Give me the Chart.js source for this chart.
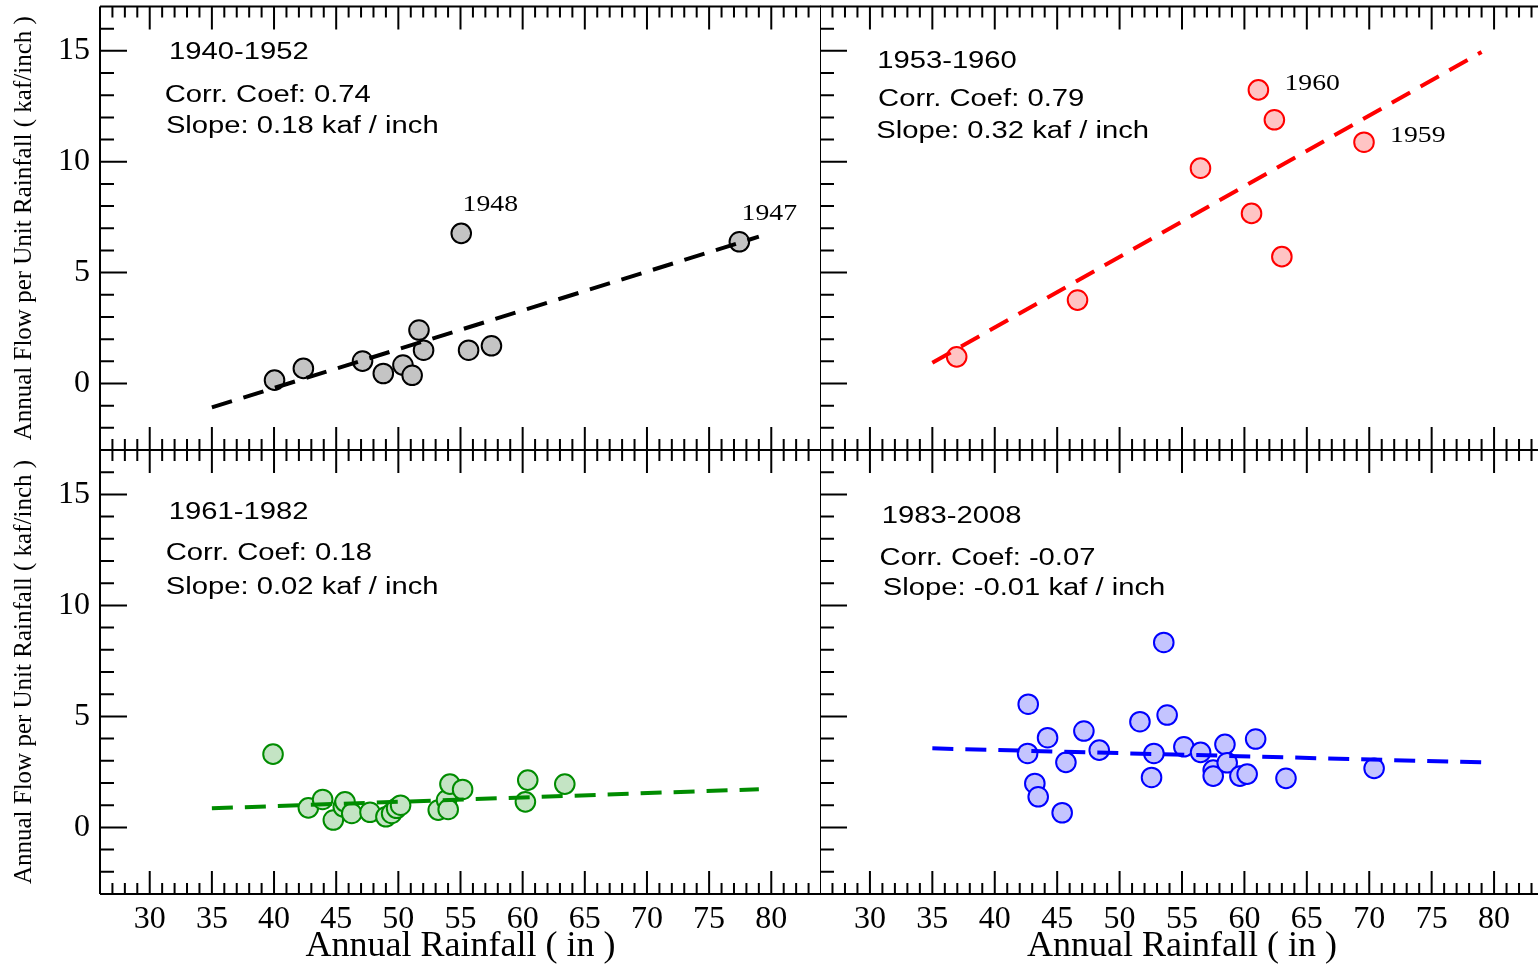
<!DOCTYPE html>
<html>
<head>
<meta charset="utf-8">
<script src="https://cdn.jsdelivr.net/npm/chart.js@4.4.1/dist/chart.umd.min.js"></script>
<style>
html,body{margin:0;padding:0;background:#fff;overflow:hidden;width:1538px;height:965px;}
canvas{position:absolute;}
</style>
</head>
<body>
<canvas id="tl" width="821" height="450" style="left:0px;top:0px"></canvas>
<canvas id="tr" width="724" height="450" style="left:820px;top:0px"></canvas>
<canvas id="bl" width="821" height="515" style="left:0px;top:450px"></canvas>
<canvas id="br" width="724" height="515" style="left:820px;top:450px"></canvas>
<script>
// ---------------- data ----------------
const xTickLabels = [30, 35, 40, 45, 50, 55, 60, 65, 70, 75, 80];
const yTickLabels = [0, 5, 10, 15];
const xTitle = 'Annual Rainfall ( in )';
const yTitle = 'Annual Flow per Unit Rainfall ( kaf/inch )';

const periods = ['1940-1952', '1953-1960', '1961-1982', '1983-2008'];
const corrCoef = ['0.74', '0.79', '0.18', '-0.07'];
const slopes = ['0.18', '0.32', '0.02', '-0.01'];

// 1940-1952
const rain1940 = [40.04, 42.36, 47.12, 48.79, 50.37, 51.11, 51.66, 52.03, 55.06, 55.65, 57.49, 77.43];
const flow1940 = [0.15, 0.68, 1.01, 0.45, 0.83, 0.37, 2.41, 1.50, 6.77, 1.50, 1.70, 6.39];
// 1953-1960
const rain1953 = [36.95, 46.63, 56.48, 60.57, 61.12, 62.40, 63.00, 69.58];
const flow1953 = [1.20, 3.76, 9.71, 7.67, 13.24, 11.89, 5.72, 10.88];
// 1961-1982
const rain1961 = [39.92, 42.76, 43.91, 44.77, 45.57, 45.71, 46.25, 47.72, 49.00, 49.46, 49.86, 50.18, 53.21, 53.88, 54.01, 54.15, 55.17, 60.22, 60.41, 63.39];
const flow1961 = [3.30, 0.88, 1.26, 0.33, 0.93, 1.15, 0.63, 0.68, 0.48, 0.63, 0.86, 1.00, 0.78, 1.23, 0.81, 1.95, 1.71, 1.15, 2.13, 1.95];
// 1983-2008
const rain1983 = [42.68, 42.63, 43.21, 43.48, 44.23, 45.40, 45.70, 47.14, 48.37, 51.63, 52.56, 52.75, 53.54, 53.81, 55.15, 56.49, 57.50, 57.50, 58.44, 58.62, 59.64, 60.22, 60.90, 63.33, 70.39];
const flow1983 = [5.55, 3.33, 1.98, 1.38, 4.04, 0.66, 2.93, 4.34, 3.48, 4.76, 2.25, 3.33, 8.33, 5.06, 3.63, 3.38, 2.58, 2.31, 3.74, 2.91, 2.31, 2.40, 3.98, 2.21, 2.66];

// regression lines (end points)
const trendRain = [35, 79];
const trend1940 = [-1.08, 6.62];
const trend1953 = [0.93, 14.95];
const trend1961 = [0.86, 1.72];
const trend1983 = [3.56, 2.93];

// labelled years
const years1940 = ['1948', '1947'];
const years1953 = ['1960', '1959'];

// ---------------- drawing ----------------
const SANS = "'Liberation Sans', Arial, sans-serif";
const SERIF = "'Liberation Serif', 'Times New Roman', serif";

const deco = {};

function drawStretched(ctx, text, x, y, font, sx) {
  ctx.save();
  ctx.translate(x, y);
  ctx.scale(sx, 1);
  ctx.font = font;
  ctx.fillStyle = '#000';
  ctx.textAlign = 'left';
  ctx.textBaseline = 'middle';
  ctx.fillText(text, 0, 0);
  ctx.restore();
}

const decoPlugin = {
  id: 'deco',
  afterDatasetsDraw(chart) {
    const ctx = chart.ctx;
    const xs = chart.scales.x, ys = chart.scales.y;
    const {left, right, top, bottom} = chart.chartArea;
    ctx.save();
    ctx.strokeStyle = '#000';
    ctx.lineWidth = 2;
    ctx.lineCap = 'butt';
    ctx.beginPath();
    ctx.moveTo(left, top); ctx.lineTo(right + 4, top);
    ctx.moveTo(left, bottom); ctx.lineTo(right + 4, bottom);
    ctx.moveTo(left, top); ctx.lineTo(left, bottom);
    xs.ticks.forEach(t => {
      const p = xs.getPixelForValue(t.value);
      const L = (Math.round(t.value) % 5 === 0) ? 23 : 11;
      ctx.moveTo(p, top); ctx.lineTo(p, top + L);
      ctx.moveTo(p, bottom); ctx.lineTo(p, bottom - L);
    });
    ys.ticks.forEach(t => {
      const p = ys.getPixelForValue(t.value);
      const L = (Math.round(t.value) % 5 === 0) ? 27 : 14;
      ctx.moveTo(left, p); ctx.lineTo(left + L, p);
    });
    ctx.stroke();
    ctx.restore();

    const d = deco[chart.canvas.id];
    d.texts.forEach(o => {
      drawStretched(ctx, o.text, xs.getPixelForValue(o.x), ys.getPixelForValue(o.y) + 2, '23px ' + SANS, 1.27);
    });
    d.years.forEach(o => {
      drawStretched(ctx, o.text, xs.getPixelForValue(o.x), ys.getPixelForValue(o.y) + 1, '23.5px ' + SERIF, 1.18);
    });
  }
};

function zeroPad(s) { s.paddingLeft = 0; s.paddingRight = 0; s.paddingTop = 0; s.paddingBottom = 0; }

function makePanel(id, cfg) {
  deco[id] = cfg.deco;
  return new Chart(document.getElementById(id), {
    type: 'scatter',
    data: {
      datasets: [
        {
          data: trendRain.map((x, i) => ({x: x, y: cfg.trend[i]})),
          showLine: true,
          borderColor: cfg.line,
          borderWidth: 4,
          borderDash: [21, 12],
          borderCapStyle: 'butt',
          pointRadius: 0,
          pointHoverRadius: 0,
          fill: false
        },
        {
          data: cfg.rain.map((x, i) => ({x: x, y: cfg.flow[i]})),
          backgroundColor: cfg.fill,
          borderColor: cfg.edge,
          borderWidth: 2,
          pointRadius: 9.8,
          pointHoverRadius: 9.8
        }
      ]
    },
    options: {
      responsive: false,
      maintainAspectRatio: false,
      animation: false,
      devicePixelRatio: 1,
      events: [],
      layout: { autoPadding: false, padding: { top: cfg.top ? 6.5 : 0, left: 0, right: 0, bottom: 0 } },
      plugins: { legend: { display: false }, tooltip: { enabled: false } },
      scales: {
        x: {
          type: 'linear', position: 'bottom', min: 26, max: 84,
          grid: { display: false, drawTicks: false },
          border: { display: false },
          ticks: {
            display: !cfg.top, stepSize: 1, autoSkip: false, maxRotation: 0, minRotation: 0,
            padding: 6, color: '#000', font: { family: SERIF, size: 32 },
            callback: v => xTickLabels.includes(Math.round(v)) && Math.abs(v - Math.round(v)) < 1e-6 ? String(Math.round(v)) : ''
          },
          title: { display: !cfg.top, text: xTitle, color: '#000', font: { family: SERIF, size: 36, lineHeight: 1 }, padding: { top: 0, bottom: 0 } },
          afterFit: s => { s.height = cfg.top ? 0 : 71; zeroPad(s); }
        },
        y: {
          type: 'linear', position: 'left', min: -3, max: 17,
          grid: { display: false, drawTicks: false },
          border: { display: false },
          ticks: {
            display: cfg.left, stepSize: 1, autoSkip: false,
            padding: 10, color: '#000', font: { family: SERIF, size: 32 },
            callback: v => yTickLabels.includes(Math.round(v)) && Math.abs(v - Math.round(v)) < 1e-6 ? String(Math.round(v)) : ''
          },
          title: { display: cfg.left, text: yTitle, color: '#000', font: { family: SERIF, size: 25, lineHeight: 1.2 }, padding: { top: 9, bottom: 0 } },
          afterFit: s => { s.width = cfg.left ? 100 : 0; zeroPad(s); }
        }
      }
    },
    plugins: [decoPlugin]
  });
}

makePanel('tl', {
  top: true, left: true,
  rain: rain1940, flow: flow1940, trend: trend1940,
  fill: '#c4c4c4', edge: '#000000', line: '#000000',
  deco: {
    texts: [
      { text: periods[0], x: 31.55, y: 15.0 },
      { text: 'Corr. Coef: ' + corrCoef[0], x: 31.2, y: 13.05 },
      { text: 'Slope: ' + slopes[0] + ' kaf / inch', x: 31.3, y: 11.65 }
    ],
    years: [
      { text: years1940[0], x: 55.17, y: 8.09 },
      { text: years1940[1], x: 77.61, y: 7.69 }
    ]
  }
});

makePanel('tr', {
  top: true, left: false,
  rain: rain1953, flow: flow1953, trend: trend1953,
  fill: '#ffc4c4', edge: '#ff0000', line: '#ff0000',
  deco: {
    texts: [
      { text: periods[1], x: 30.58, y: 14.6 },
      { text: 'Corr. Coef: ' + corrCoef[1], x: 30.65, y: 12.89 },
      { text: 'Slope: ' + slopes[1] + ' kaf / inch', x: 30.51, y: 11.44 }
    ],
    years: [
      { text: years1953[0], x: 63.21, y: 13.56 },
      { text: years1953[1], x: 71.67, y: 11.21 }
    ]
  }
});

makePanel('bl', {
  top: false, left: true,
  rain: rain1961, flow: flow1961, trend: trend1961,
  fill: '#c4e4c4', edge: '#008c00', line: '#008c00',
  deco: {
    texts: [
      { text: periods[2], x: 31.54, y: 14.26 },
      { text: 'Corr. Coef: ' + corrCoef[2], x: 31.29, y: 12.41 },
      { text: 'Slope: ' + slopes[2] + ' kaf / inch', x: 31.29, y: 10.91 }
    ],
    years: []
  }
});

makePanel('br', {
  top: false, left: false,
  rain: rain1983, flow: flow1983, trend: trend1983,
  fill: '#c4c4ff', edge: '#0000ff', line: '#0000ff',
  deco: {
    texts: [
      { text: periods[3], x: 30.95, y: 14.11 },
      { text: 'Corr. Coef: ' + corrCoef[3], x: 30.77, y: 12.19 },
      { text: 'Slope: ' + slopes[3] + ' kaf / inch', x: 31.03, y: 10.84 }
    ],
    years: []
  }
});
</script>
</body>
</html>
